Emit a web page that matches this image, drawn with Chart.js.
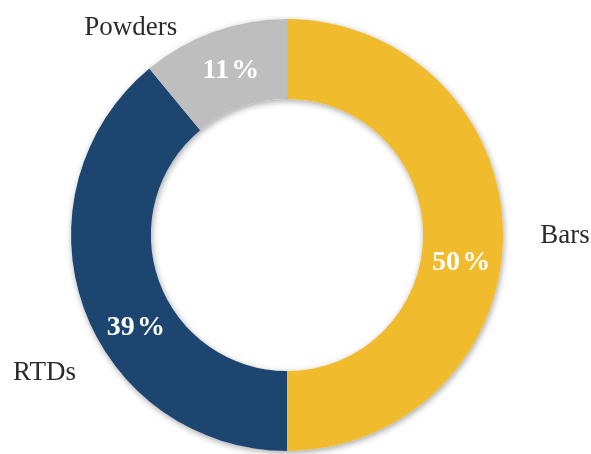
<!DOCTYPE html>
<html>
<head>
<meta charset="utf-8">
<script src="https://cdn.jsdelivr.net/npm/chart.js@4/dist/chart.umd.min.js"></script>
<style>
  html, body { margin: 0; padding: 0; background: #fff; }
  #chart { display: block; }
</style>
</head>
<body>
<canvas id="chart" width="591" height="454"></canvas>
<script>
const categories = ['Bars', 'RTDs', 'Powders'];
const shares = [50, 39, 11];
const colors = ['#F0BB2C', '#1C4570', '#BEBEBE'];

// where the text goes, angle in degrees clockwise from the top
const pctAngles = [98.4, 239.1, 341.4];
const nameAngles = [89.8, 240.7, 323.2];
const nameDist = [278, 278, 261];

const serif = '"Liberation Serif", "Times New Roman", serif';

function pointAt(arc, deg, r) {
  const a = deg * Math.PI / 180;
  return { x: arc.x + r * Math.sin(a), y: arc.y - r * Math.cos(a) };
}

const ringShadow = {
  id: 'ringShadow',
  beforeDatasetsDraw(chart) {
    const arc = chart.getDatasetMeta(0).data[0];
    if(!arc) return;
    const ctx = chart.ctx;
    ctx.save();
    ctx.shadowColor = 'rgba(0,0,0,0.35)';
    ctx.shadowBlur = 6;
    ctx.shadowOffsetX = 1;
    ctx.shadowOffsetY = 2;
    ctx.fillStyle = '#fff';
    ctx.beginPath();
    ctx.arc(arc.x, arc.y, arc.outerRadius, 0, Math.PI * 2);
    ctx.arc(arc.x, arc.y, arc.innerRadius, Math.PI * 2, 0, true);
    ctx.fill();
    ctx.restore();
  }
};

const ringLabels = {
  id: 'ringLabels',
  afterDatasetsDraw(chart) {
    const meta = chart.getDatasetMeta(0);
    const ctx = chart.ctx;
    ctx.save();
    ctx.textAlign = 'center';
    ctx.textBaseline = 'alphabetic';
    meta.data.forEach((arc, i) => {
      const mid = (arc.innerRadius + arc.outerRadius) / 2;
      const p = pointAt(arc, pctAngles[i], mid);
      ctx.fillStyle = '#fff';
      ctx.font = 'bold 28px ' + serif;
      ctx.fillText(shares[i] + '\u200A%', p.x, p.y + 9.5);

      const q = pointAt(arc, nameAngles[i], nameDist[i]);
      ctx.fillStyle = '#2b2b2b';
      ctx.font = '27px ' + serif;
      ctx.fillText(categories[i], q.x, q.y + 9);
    });
    ctx.restore();
  }
};

new Chart(document.getElementById('chart').getContext('2d'), {
  type: 'doughnut',
  data: {
    labels: categories,
    datasets: [{
      data: shares,
      backgroundColor: colors,
      borderWidth: 0
    }]
  },
  options: {
    responsive: false,
    animation: false,
    cutout: '63%',
    layout: { padding: { top: 19, bottom: 3, left: 71, right: 88 } },
    plugins: {
      legend: { display: false },
      tooltip: { enabled: false }
    }
  },
  plugins: [ringShadow, ringLabels]
});
</script>
</body>
</html>
